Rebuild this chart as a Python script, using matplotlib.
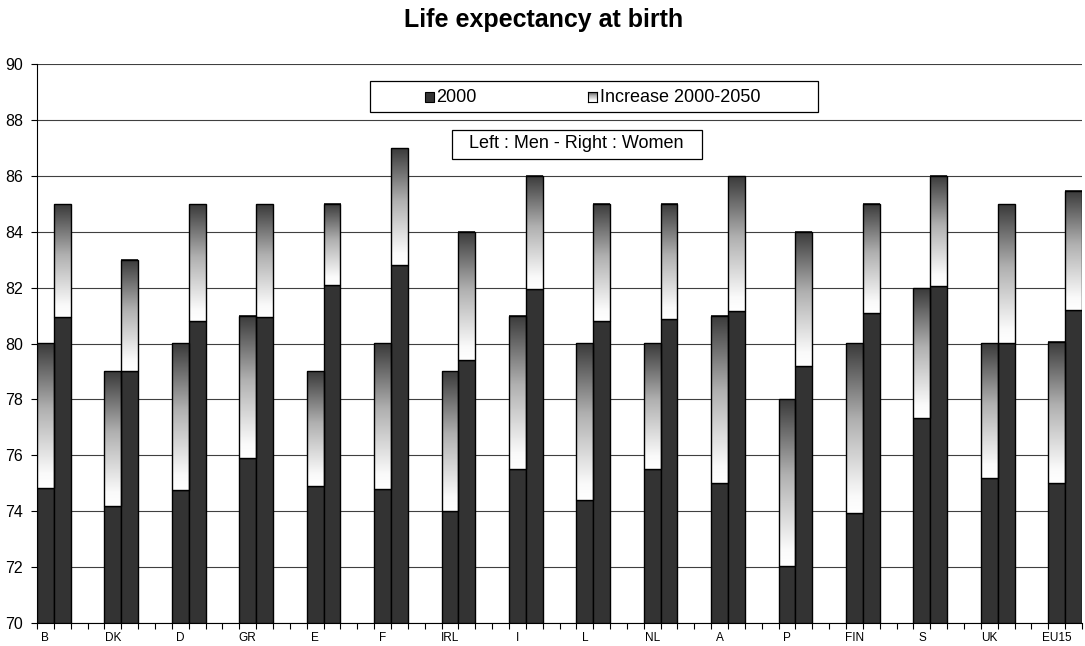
import numpy as np
import matplotlib
matplotlib.use("Agg")
import matplotlib.pyplot as plt
from matplotlib.colors import LinearSegmentedColormap
from matplotlib.patches import Rectangle

plt.rcParams['font.family'] = ['Liberation Sans', 'DejaVu Sans']

countries = ["B", "DK", "D", "GR", "E", "F", "IRL", "I", "L", "NL", "A", "P", "FIN", "S", "UK", "EU15"]
men_2000 = [74.82, 74.2, 74.75, 75.9, 74.9, 74.8, 74.0, 75.5, 74.4, 75.5, 75.0, 72.04, 73.95, 77.35, 75.2, 75.0]
men_2050 = [80.0, 79.0, 80.0, 81.0, 79.0, 80.0, 79.0, 81.0, 80.0, 80.0, 81.0, 78.0, 80.0, 82.0, 80.0, 80.06]
women_2000 = [80.96, 79.0, 80.82, 80.96, 82.1, 82.82, 79.41, 81.95, 80.8, 80.88, 81.17, 79.2, 81.1, 82.05, 80.03, 81.2]
women_2050 = [85.0, 83.0, 85.0, 85.0, 85.0, 87.0, 84.0, 86.0, 85.0, 85.0, 86.0, 84.0, 85.0, 86.0, 85.0, 85.46]
yticks = list(range(70, 91, 2))

W, H = 1085, 646
fig = plt.figure(figsize=(W / 100, H / 100), dpi=100)
ax = fig.add_axes([37 / W, 1 - 623 / H, (1082 - 37) / W, (623 - 64) / H])

dark = '#333333'
cmap = LinearSegmentedColormap.from_list(
    'inc', [(0.0, '#ffffff'), (0.1, '#fafafa'), (0.55, '#b0b0b0'), (1.0, '#3a3a3a')])
grad = np.linspace(0, 1, 256).reshape(-1, 1)

ymin = 70
for k in range(len(countries)):
    for j, (b, t) in enumerate([(men_2000[k], men_2050[k]), (women_2000[k], women_2050[k])]):
        x0 = 4 * k + j
        ax.add_patch(Rectangle((x0, ymin), 1, b - ymin, facecolor=dark,
                               edgecolor='black', lw=1.0, zorder=3))
        ax.imshow(grad, extent=[x0, x0 + 1, b, t], origin='lower', cmap=cmap,
                  aspect='auto', zorder=3, interpolation='bilinear')
        ax.add_patch(Rectangle((x0, b), 1, t - b, facecolor='none',
                               edgecolor='black', lw=1.0, zorder=4))

ax.set_xlim(0, 62)
ax.set_ylim(70, 90)
ax.set_aspect('auto')
ax.set_yticks(yticks)
ax.set_yticklabels([str(v) for v in yticks], fontsize=11.5)
ax.set_xticks(np.arange(0, 63, 1))
ax.set_xticklabels([])
ax.set_xticks([4 * k + 0.5 for k in range(len(countries))], minor=True)
ax.set_xticklabels(countries, minor=True, fontsize=8.5)
ax.tick_params(axis='x', which='minor', length=0, pad=6.5)
ax.tick_params(axis='x', which='major', length=4, direction='out', width=0.8)
ax.tick_params(axis='y', length=4, direction='out', width=0.8, pad=6)
ax.grid(axis='y', color='#404040', lw=0.8)
ax.set_axisbelow(True)
for s in ['top', 'right']:
    ax.spines[s].set_visible(False)
ax.spines['left'].set_linewidth(0.8)
ax.spines['bottom'].set_linewidth(0.8)

fig.text(544 / W, 1 - 27 / H, 'Life expectancy at birth', ha='center', va='baseline',
         fontsize=18, fontweight='bold')

def fx(px):
    return px / W

def fy(py):
    return 1 - py / H

fig.patches.append(Rectangle((fx(370), fy(112)), fx(818) - fx(370), fy(81) - fy(112),
                             transform=fig.transFigure, facecolor='white',
                             edgecolor='black', lw=0.9, zorder=5))
fig.patches.append(Rectangle((fx(425), fy(101.5)), fx(434) - fx(425), fy(92) - fy(101.5),
                             transform=fig.transFigure, facecolor=dark,
                             edgecolor='black', lw=0.8, zorder=6))
fig.text(fx(436), fy(97), '2000', ha='left', va='center', fontsize=13, zorder=7)
lax = fig.add_axes([fx(588), fy(101.5), fx(597) - fx(588), fy(92) - fy(101.5)], zorder=8)
lax.imshow(grad, origin='lower', cmap=cmap, aspect='auto', extent=[0, 1, 0, 1])
lax.set_xticks([])
lax.set_yticks([])
for s in lax.spines.values():
    s.set_linewidth(0.8)
fig.text(fx(600), fy(97), 'Increase 2000-2050', ha='left', va='center', fontsize=13, zorder=7)

fig.patches.append(Rectangle((fx(452), fy(159)), fx(702) - fx(452), fy(130) - fy(159),
                             transform=fig.transFigure, facecolor='white',
                             edgecolor='black', lw=0.9, zorder=5))
fig.text(fx(576), fy(144), 'Left : Men - Right : Women', ha='center', va='center',
         fontsize=13, zorder=7)

fig.savefig('out.png', dpi=100)
